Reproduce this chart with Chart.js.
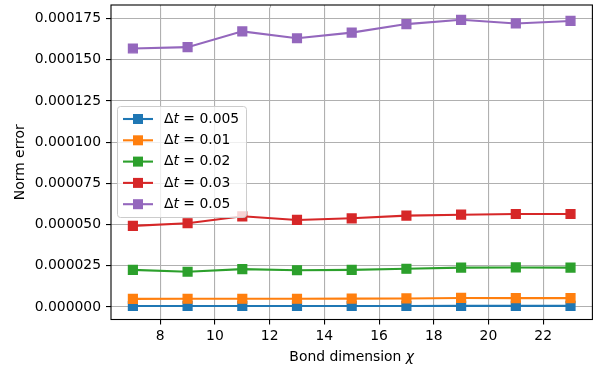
<!DOCTYPE html>
<html>
<head>
<meta charset="utf-8">
<script src="https://cdn.jsdelivr.net/npm/chart.js@4/dist/chart.umd.min.js"></script>
<style>
  html, body { margin: 0; padding: 0; background: #fff; }
  #wrap { width: 600px; height: 368px; }
</style>
</head>
<body>
<div id="wrap"><canvas id="errChart" width="600" height="368"></canvas></div>
<script>
// bond dimensions and norm errors per time step
var chi = [7, 9, 11, 13, 15, 17, 19, 21, 23];
var dtLabels = ['0.005', '0.01', '0.02', '0.03', '0.05'];
var err005 = [0.0000006, 0.0000006, 0.0000006, 0.0000006, 0.0000006, 0.0000006, 0.0000007, 0.0000007, 0.0000007];
var err01  = [0.0000049, 0.0000050, 0.0000050, 0.0000050, 0.0000051, 0.0000052, 0.0000055, 0.0000054, 0.0000054];
var err02  = [0.0000225, 0.0000214, 0.0000230, 0.0000223, 0.0000225, 0.0000232, 0.0000239, 0.0000240, 0.0000239];
var err03  = [0.0000492, 0.0000508, 0.0000550, 0.0000528, 0.0000538, 0.0000554, 0.0000560, 0.0000564, 0.0000564];
var err05  = [0.0001568, 0.0001576, 0.0001672, 0.0001630, 0.0001664, 0.0001716, 0.0001742, 0.0001720, 0.0001735];
var xTicks = [8, 10, 12, 14, 16, 18, 20, 22];
var yTicks = [0, 0.000025, 0.00005, 0.000075, 0.0001, 0.000125, 0.00015, 0.000175];

var colors = ['#1f77b4', '#ff7f0e', '#2ca02c', '#d62728', '#9467bd'];
var series = [err005, err01, err02, err03, err05];
var FS = 13.9;
var FONT = FS + 'px DejaVu Sans';
var IFONT = 'italic ' + FS + 'px DejaVu Sans';
var FRAME_TOP = 5;

Chart.defaults.font.family = 'DejaVu Sans';
Chart.defaults.font.size = FS;
Chart.defaults.color = '#000';

var datasets = series.map(function (vals, i) {
  return {
    label: 'Δt = ' + dtLabels[i],
    data: vals.map(function (v, j) { return { x: chi[j], y: v }; }),
    borderColor: colors[i],
    backgroundColor: colors[i],
    borderWidth: 2.1,
    pointStyle: 'rect',
    pointRadius: 6.2,
    pointBorderWidth: 1.4,
    pointBackgroundColor: colors[i],
    pointBorderColor: colors[i],
    order: 4 - i
  };
});

// frame, legend box and axis titles drawn on top of the plot
var decor = {
  id: 'decor',
  afterDraw: function (chart) {
    var ctx = chart.ctx, a = chart.chartArea;
    var top = Math.min(FRAME_TOP, a.top);
    ctx.save();
    // carry the vertical grid up to the frame
    ctx.strokeStyle = '#b0b0b0';
    ctx.lineWidth = 1.1;
    xTicks.forEach(function (v) {
      var px = Math.round(chart.scales.x.getPixelForValue(v)) + 0.5;
      ctx.beginPath();
      ctx.moveTo(px, top);
      ctx.lineTo(px, a.top);
      ctx.stroke();
    });
    ctx.strokeStyle = '#000';
    ctx.strokeRect(a.left, top, a.right - a.left, a.bottom - top);

    // legend
    var bx = 117.5, by = 106.5, bw = 129, bh = 111, r = 3;
    ctx.beginPath();
    ctx.moveTo(bx + r, by);
    ctx.arcTo(bx + bw, by, bx + bw, by + bh, r);
    ctx.arcTo(bx + bw, by + bh, bx, by + bh, r);
    ctx.arcTo(bx, by + bh, bx, by, r);
    ctx.arcTo(bx, by, bx + bw, by, r);
    ctx.closePath();
    ctx.fillStyle = 'rgba(255,255,255,0.8)';
    ctx.fill();
    ctx.lineWidth = 1;
    ctx.strokeStyle = '#cccccc';
    ctx.stroke();

    ctx.textBaseline = 'middle';
    dtLabels.forEach(function (lab, i) {
      var y = 119 + i * 21.3;
      ctx.strokeStyle = colors[i];
      ctx.lineWidth = 2.1;
      ctx.beginPath();
      ctx.moveTo(123, y);
      ctx.lineTo(153, y);
      ctx.stroke();
      ctx.fillStyle = colors[i];
      ctx.fillRect(133, y - 5, 10, 10);
      ctx.fillStyle = '#000';
      var x = 164;
      ctx.font = FONT;
      ctx.fillText('Δ', x, y);
      x += ctx.measureText('Δ').width;
      ctx.font = IFONT;
      ctx.fillText('t', x, y);
      x += ctx.measureText('t').width;
      ctx.font = FONT;
      ctx.fillText(' = ' + lab, x, y);
    });

    // x axis title with italic chi
    ctx.font = FONT;
    var t1 = 'Bond dimension ';
    var w1 = ctx.measureText(t1).width;
    ctx.font = IFONT;
    var w2 = ctx.measureText('χ').width;
    var sx = (a.left + a.right) / 2 - (w1 + w2) / 2;
    ctx.textBaseline = 'alphabetic';
    ctx.font = FONT;
    ctx.fillText(t1, sx, 361);
    ctx.font = IFONT;
    ctx.fillText('χ', sx + w1, 361);

    // y axis title
    ctx.font = FONT;
    ctx.textAlign = 'center';
    ctx.translate(24, (top + a.bottom) / 2);
    ctx.rotate(-Math.PI / 2);
    ctx.fillText('Norm error', 0, 0);
    ctx.restore();
  }
};

var ctx = document.getElementById('errChart').getContext('2d');
var errChart = new Chart(ctx, {
  type: 'line',
  data: { datasets: datasets },
  options: {
    responsive: false,
    animation: false,
    layout: { padding: { left: 0, right: 7, top: 2, bottom: 0 } },
    plugins: { legend: { display: false }, tooltip: { enabled: false } },
    scales: {
      x: {
        type: 'linear',
        min: 6.2,
        max: 23.8,
        afterBuildTicks: function (scale) {
          scale.ticks = xTicks.map(function (v) { return { value: v }; });
        },
        afterFit: function (scale) {
          scale.height = 48.5;
          scale.paddingLeft = 0;
          scale.paddingRight = 0;
        },
        grid: { color: '#b0b0b0', lineWidth: 1.1, tickLength: 5, tickColor: '#000' },
        border: { display: false },
        ticks: { padding: 4, maxRotation: 0, callback: function (v) { return v; } }
      },
      y: {
        min: -0.00000758,
        max: 0.0001816,
        afterBuildTicks: function (scale) {
          scale.ticks = yTicks.map(function (v) { return { value: v }; });
        },
        afterFit: function (scale) {
          scale.width = 111;
          scale.paddingTop = 0;
          scale.paddingBottom = 0;
        },
        grid: { color: '#b0b0b0', lineWidth: 1.1, tickLength: 5, tickColor: '#000' },
        border: { display: false },
        ticks: { padding: 5, callback: function (v) { return v.toFixed(6); } }
      }
    }
  },
  plugins: [decor]
});
</script>
</body>
</html>
